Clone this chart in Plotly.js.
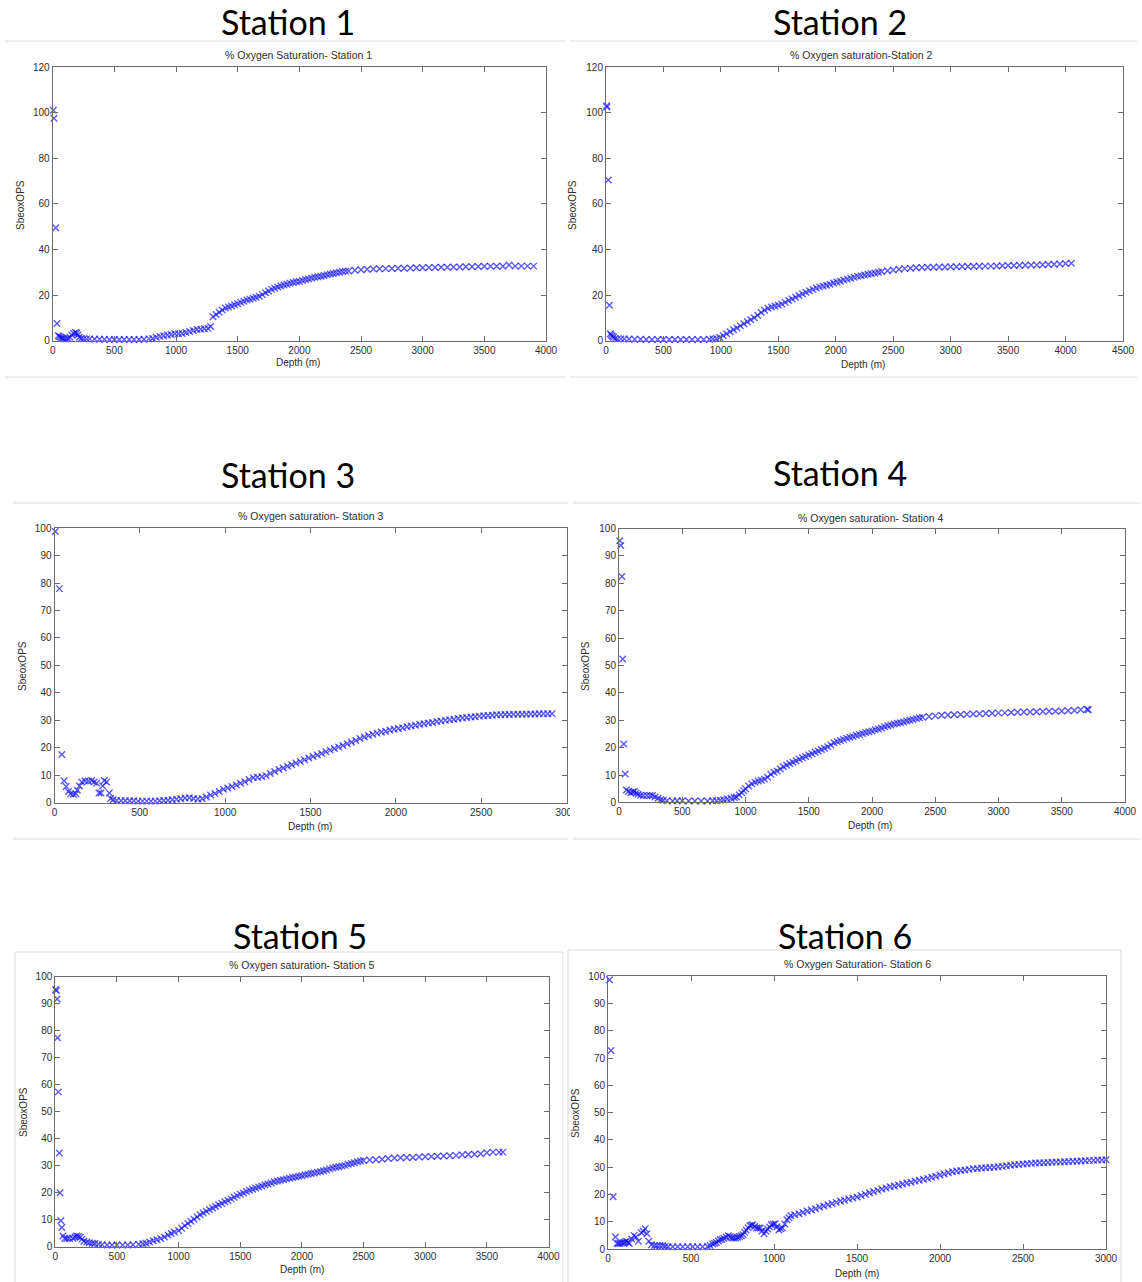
<!DOCTYPE html>
<html><head><meta charset="utf-8">
<script src="https://cdn.plot.ly/plotly-3.0.1.min.js"></script>
<style>html,body{margin:0;padding:0;background:#fff}#chart{width:1142px;height:1282px}</style>
</head><body><div id="chart"></div>
<script>
// ---------------- DATA ----------------
const stationNames = ['Station 1','Station 2','Station 3','Station 4','Station 5','Station 6'];
const panelTitles = ['% Oxygen Saturation- Station 1','% Oxygen saturation-Station 2','% Oxygen saturation- Station 3',
                     '% Oxygen saturation- Station 4','% Oxygen saturation- Station 5','% Oxygen Saturation- Station 6'];
const xLabel = 'Depth (m)';
const yLabel = 'SbeoxOPS';
const xMax = [4000,4500,3000,4000,4000,3000];
const yMax = [120,120,100,100,100,100];
const yStep = [20,20,10,10,10,10];

const s1Depth = [5,10,25,35,45,55,65,75,85,95,
 110,125,140,155,170,185,195,205,215,230,
 250,275,300,340,380,420,460,500,540,580,
 620,660,700,740,780,810,840,870,900,930,
 960,990,1020,1050,1080,1110,1140,1170,1200,1230,
 1260,1280,1300,1325,1350,1375,1400,1425,1450,1475,
 1500,1525,1550,1575,1600,1625,1650,1675,1700,1725,
 1750,1775,1800,1825,1850,1875,1900,1925,1950,1975,
 2000,2025,2050,2075,2100,2125,2150,2175,2200,2225,
 2250,2275,2300,2325,2350,2375,2400,2450,2500,2550,
 2600,2650,2700,2750,2800,2850,2900,2950,3000,3050,
 3100,3150,3200,3250,3300,3350,3400,3450,3500,3550,
 3600,3650,3700,3750,3800,3850,3900];
const s1Sat = [101,97.5,49.5,7.5,2.2,1.8,1.5,1.2,1.0,0.8,
 0.8,1.0,1.5,2.5,3.2,3.6,3.3,2.5,1.5,1.0,
 0.9,0.8,0.8,0.7,0.6,0.6,0.5,0.5,0.5,0.5,
 0.5,0.5,0.5,0.6,0.8,1.0,1.5,1.9,2.2,2.5,
 2.7,3.0,3.0,3.2,3.6,4.0,4.5,4.9,5.0,5.2,
 5.4,6.2,10.5,11.5,12.5,13.5,14.3,14.8,15.2,15.8,
 16.2,16.8,17.3,17.8,18.2,18.6,19.0,19.5,20.2,21.0,
 21.8,22.5,23.0,23.5,24.0,24.4,24.8,25.2,25.5,25.8,
 26.0,26.4,26.8,27.1,27.5,27.8,28.0,28.3,28.6,28.9,
 29.2,29.5,29.8,30.0,30.3,30.5,30.6,30.9,31.1,31.3,
 31.4,31.5,31.6,31.7,31.8,31.8,31.9,32.0,32.0,32.1,
 32.1,32.2,32.2,32.3,32.3,32.4,32.4,32.5,32.6,32.6,
 32.6,32.6,33.2,32.7,32.7,32.7,32.7];

const s2Depth = [5,8,20,30,38,45,55,65,80,100,
 130,160,200,250,300,350,400,450,500,550,
 600,650,700,750,800,850,900,930,960,990,
 1020,1050,1080,1110,1140,1170,1200,1230,1260,1290,
 1320,1350,1380,1410,1440,1470,1500,1530,1560,1590,
 1620,1650,1680,1710,1740,1770,1800,1830,1860,1890,
 1920,1950,1980,2010,2040,2070,2100,2130,2160,2190,
 2220,2250,2280,2310,2340,2370,2400,2450,2500,2550,
 2600,2650,2700,2750,2800,2850,2900,2950,3000,3050,
 3100,3150,3200,3250,3300,3350,3400,3450,3500,3550,
 3600,3650,3700,3750,3800,3850,3900,3950,4000,4050];
const s2Sat = [103,102.5,70.5,15.5,3.0,2.5,2.0,1.5,1.0,0.8,
 0.8,0.8,0.7,0.6,0.6,0.5,0.5,0.5,0.5,0.5,
 0.5,0.5,0.5,0.5,0.5,0.5,0.6,0.8,1.0,1.4,
 2.2,3.0,3.9,4.8,5.6,6.5,7.4,8.3,9.2,10.1,
 11.2,12.4,13.4,14.2,14.8,15.2,15.5,16.1,16.8,17.6,
 18.3,19.0,19.8,20.5,21.2,21.9,22.5,23.1,23.6,24.0,
 24.3,24.8,25.3,25.7,26.1,26.6,27.0,27.4,27.8,28.2,
 28.5,28.8,29.1,29.4,29.7,30.0,30.3,30.7,31.0,31.3,
 31.6,31.8,32.0,32.1,32.2,32.2,32.3,32.3,32.4,32.4,
 32.5,32.5,32.6,32.6,32.7,32.7,32.8,32.9,33.0,33.0,
 33.1,33.1,33.2,33.2,33.3,33.4,33.5,33.6,33.8,34.0];

const s3Depth = [5,29,43,56,68,82,95,111,125,134,
 146,160,179,198,218,232,247,261,272,282,
 292,305,321,329,344,364,390,415,440,465,
 490,515,540,565,590,615,640,665,690,715,
 740,765,790,815,840,865,890,915,940,965,
 990,1015,1040,1065,1090,1115,1140,1165,1190,1215,
 1240,1265,1290,1315,1340,1365,1390,1415,1440,1465,
 1490,1515,1540,1565,1590,1615,1640,1665,1690,1715,
 1740,1765,1790,1815,1840,1865,1890,1915,1940,1965,
 1990,2015,2040,2065,2090,2115,2140,2165,2190,2215,
 2240,2265,2290,2315,2340,2365,2390,2415,2440,2465,
 2490,2515,2540,2565,2590,2615,2640,2665,2690,2715,
 2740,2765,2790,2815,2840,2865,2890,2915];
const s3Sat = [98.8,78,17.5,7.9,5.8,4.0,3.2,3.0,3.2,4.5,
 6.0,7.5,7.8,7.8,8.0,7.5,7.0,3.5,3.5,6.0,
 8.0,7.5,3.5,1.5,1.0,0.7,0.6,0.6,0.6,0.6,
 0.5,0.5,0.5,0.5,0.5,0.6,0.7,0.8,1.0,1.2,
 1.4,1.6,1.7,1.5,1.3,1.4,2.0,2.7,3.3,4.0,
 4.8,5.3,5.8,6.4,7.0,7.6,8.4,9.0,9.2,9.4,
 9.8,10.6,11.3,12.0,12.6,13.2,13.8,14.4,15.0,15.6,
 16.2,16.8,17.3,17.9,18.5,19.1,19.7,20.2,20.8,21.4,
 22.0,22.6,23.3,23.9,24.4,24.9,25.3,25.7,26.0,26.4,
 26.7,27.0,27.3,27.6,27.9,28.2,28.5,28.7,29.0,29.2,
 29.5,29.7,30.0,30.2,30.4,30.6,30.8,31.0,31.2,31.3,
 31.5,31.6,31.7,31.8,32.0,32.0,32.1,32.1,32.2,32.2,
 32.2,32.2,32.3,32.3,32.4,32.4,32.4,32.4];

const s4Depth = [6,14,23,29,37,49,58,75,92,108,
 121,135,150,170,193,220,245,265,285,308,
 330,350,380,424,460,500,550,600,650,700,
 740,770,800,827,855,885,910,928,950,970,
 985,1000,1025,1050,1075,1100,1125,1150,1175,1200,
 1225,1250,1275,1300,1325,1350,1375,1400,1425,1450,
 1475,1500,1525,1550,1575,1600,1625,1650,1675,1700,
 1725,1750,1775,1800,1825,1850,1875,1900,1925,1950,
 1975,2000,2025,2050,2075,2100,2125,2150,2175,2200,
 2225,2250,2275,2300,2325,2350,2375,2400,2450,2500,
 2550,2600,2650,2700,2750,2800,2850,2900,2950,3000,
 3050,3100,3150,3200,3250,3300,3350,3400,3450,3500,
 3550,3600,3650,3700,3710];
const s4Sat = [95.6,93.8,82.5,52.4,21.3,10.4,4.5,4.0,3.5,3.8,
 4.0,3.4,3.0,2.6,2.5,2.5,2.5,2.5,2.0,1.5,
 1.0,0.8,0.6,0.5,0.6,0.6,0.5,0.5,0.5,0.5,
 0.6,0.6,0.8,1.0,1.2,1.5,1.8,2.0,2.8,3.5,
 4.3,5.0,6.0,6.8,7.4,7.8,8.1,8.5,9.2,10.3,
 11.0,11.5,12.2,13.0,13.6,14.2,14.7,15.2,15.8,16.3,
 16.8,17.3,17.8,18.3,18.8,19.3,19.8,20.3,21.0,21.8,
 22.2,22.6,23.0,23.4,23.8,24.1,24.5,24.8,25.2,25.5,
 25.8,26.1,26.5,26.8,27.2,27.6,28.0,28.3,28.6,28.9,
 29.1,29.4,29.7,30.0,30.3,30.6,30.9,31.1,31.4,31.6,
 31.8,31.9,32.0,32.1,32.2,32.3,32.4,32.5,32.6,32.7,
 32.7,32.8,32.9,33.0,33.0,33.1,33.2,33.3,33.3,33.4,
 33.5,33.6,33.8,34.0,33.8];

const s5Depth = [2,9,15,18,24,33,39,45,53,62,
 77,95,115,142,160,172,188,202,216,231,
 255,276,300,320,350,380,420,460,500,545,
 588,630,677,710,736,765,795,825,855,885,
 914,940,965,1000,1025,1050,1075,1100,1125,1150,
 1175,1200,1225,1250,1275,1300,1325,1350,1375,1400,
 1425,1450,1475,1500,1525,1550,1575,1600,1625,1650,
 1675,1700,1725,1750,1775,1800,1825,1850,1875,1900,
 1925,1950,1975,2000,2025,2050,2075,2100,2125,2150,
 2175,2200,2225,2250,2275,2300,2325,2350,2375,2400,
 2425,2450,2475,2500,2550,2600,2650,2700,2750,2800,
 2850,2900,2950,3000,3050,3100,3150,3200,3250,3300,
 3350,3400,3450,3500,3550,3600,3630];
const s5Sat = [95.2,94.8,91.7,77.3,57.3,34.7,20.0,9.6,7.1,4.0,
 3.0,3.0,3.0,3.1,3.6,4.0,3.8,3.5,2.8,2.0,
 1.7,1.5,1.3,1.2,0.9,0.7,0.6,0.6,0.6,0.6,
 0.6,0.7,0.9,1.1,1.3,1.7,2.2,2.6,3.0,3.6,
 4.3,4.9,5.4,6.0,6.8,7.8,8.6,9.4,10.2,11.0,
 11.8,12.5,13.1,13.8,14.3,14.9,15.5,16.0,16.6,17.1,
 17.7,18.3,18.9,19.4,19.9,20.4,20.9,21.3,21.7,22.1,
 22.5,22.9,23.2,23.6,24.0,24.3,24.6,24.8,25.1,25.3,
 25.6,25.8,26.1,26.3,26.6,26.8,27.1,27.3,27.6,27.8,
 28.1,28.4,28.8,29.1,29.4,29.6,29.9,30.1,30.5,30.8,
 31.1,31.4,31.7,31.9,32.1,32.2,32.4,32.6,32.8,32.9,
 33.0,33.0,33.2,33.3,33.4,33.5,33.6,33.7,33.8,34.0,
 34.1,34.2,34.4,34.8,35.0,35.0,35.0];

const s6Depth = [9,18,31,45,54,63,72,83,94,103,
 112,120,128,143,157,168,183,201,212,224,
 235,246,262,280,295,312,329,345,362,390,
 420,450,480,510,540,570,600,615,631,642,
 653,665,676,687,698,712,725,736,747,758,
 770,781,792,803,814,823,832,844,855,864,
 872,884,895,906,917,928,940,951,962,973,
 984,996,1007,1018,1029,1040,1051,1065,1078,1090,
 1101,1125,1150,1175,1200,1225,1250,1275,1300,1325,
 1350,1375,1400,1425,1450,1475,1500,1525,1550,1575,
 1600,1625,1650,1675,1700,1725,1750,1775,1800,1825,
 1850,1875,1900,1925,1950,1975,2000,2025,2050,2075,
 2100,2125,2150,2175,2200,2225,2250,2275,2300,2325,
 2350,2375,2400,2425,2450,2475,2500,2525,2550,2575,
 2600,2625,2650,2675,2700,2725,2750,2775,2800,2825,
 2850,2875,2900,2925,2950,2975,3000];
const s6Sat = [98.7,72.8,19.2,4.4,2.0,2.0,2.0,2.2,2.4,2.6,
 2.8,2.4,2.0,3.7,5.0,4.4,2.8,6.0,6.5,7.4,
 5.6,2.8,1.6,1.3,1.2,1.3,1.3,1.0,0.8,0.8,
 0.8,0.8,0.8,0.8,0.8,0.8,0.9,1.3,1.8,2.1,
 2.4,2.9,3.4,3.6,3.9,4.4,4.9,4.5,4.0,4.0,
 4.0,4.3,4.6,4.9,5.2,6.1,7.0,7.8,8.5,8.7,
 8.9,8.3,7.7,7.7,7.7,6.6,5.6,6.5,7.3,8.1,
 8.9,9.1,9.3,8.2,7.0,7.4,7.7,9.2,10.7,11.5,
 12.2,12.6,12.9,13.4,13.9,14.3,14.8,15.3,15.8,16.2,
 16.7,17.1,17.6,17.9,18.3,18.7,19.1,19.6,20.1,20.6,
 21.1,21.5,22.0,22.4,22.8,23.1,23.5,23.8,24.2,24.5,
 24.9,25.2,25.6,25.9,26.3,26.7,27.1,27.5,28.0,28.3,
 28.6,28.8,29.0,29.2,29.4,29.5,29.7,29.8,29.9,30.0,
 30.2,30.3,30.5,30.7,30.9,31.0,31.2,31.3,31.4,31.5,
 31.6,31.6,31.7,31.8,31.9,31.9,32.0,32.1,32.2,32.2,
 32.3,32.4,32.5,32.5,32.6,32.6,32.7];

const depths = [s1Depth,s2Depth,s3Depth,s4Depth,s5Depth,s6Depth];
const sats = [s1Sat,s2Sat,s3Sat,s4Sat,s5Sat,s6Sat];

// ---------------- LAYOUT (pixel geometry) ----------------
const W = 1142, H = 1282;
const px = x => x / W;
const py = y => 1 - y / H;
const boxes = [
  {l:52.7, r:546,  t:67,    b:340.7, head:[288,22],  title:[298,55],  xl:[298,363],  yl:[20,205]},
  {l:606,  r:1123, t:67,    b:340.7, head:[840,22],  title:[861,55],  xl:[863,364],  yl:[572,205]},
  {l:54.5, r:566.5,t:528.3, b:802.5, head:[288,474], title:[310,516], xl:[310,826],  yl:[22,666]},
  {l:619,  r:1125, t:528.6, b:802.4, head:[840,472], title:[870,518], xl:[870,825],  yl:[585,666]},
  {l:55.3, r:548.5,t:976.5, b:1246.7,head:[300,935], title:[301,965], xl:[302,1269], yl:[23,1112]},
  {l:608,  r:1106, t:976.3, b:1249,  head:[845,935], title:[857,964], xl:[857,1273], yl:[575,1113]}
];

const axisColor = '#6c6c6c';
const textColor = '#2e2e2e';
const fontFam = 'Liberation Sans, Arial, sans-serif';

const data = [];
const layout = {
  width: W, height: H,
  margin: {l:0, r:0, t:0, b:0},
  paper_bgcolor: '#ffffff', plot_bgcolor: '#ffffff',
  showlegend: false,
  annotations: [], shapes: []
};

boxes.forEach((b, i) => {
  const n = i === 0 ? '' : String(i + 1);
  data.push({
    type: 'scatter', mode: 'markers',
    x: depths[i], y: sats[i],
    xaxis: 'x' + n, yaxis: 'y' + n,
    cliponaxis: false,
    marker: {symbol: 'x-thin', size: 6.5, line: {width: 1.4, color: 'rgba(10,10,255,0.68)'}},
    hoverinfo: 'x+y'
  });
  const common = {
    showline: true, linecolor: axisColor, linewidth: 1, mirror: 'ticks',
    ticks: 'inside', ticklen: 5, tickwidth: 1, tickcolor: axisColor,
    showgrid: false, zeroline: false, fixedrange: true,
    tickfont: {family: fontFam, size: 10, color: textColor}
  };
  layout['xaxis' + n] = Object.assign({}, common, {
    domain: [px(b.l), px(b.r)], range: [0, xMax[i]], tick0: 0, dtick: 500,
    anchor: 'y' + n
  });
  layout['yaxis' + n] = Object.assign({}, common, {
    domain: [py(b.b), py(b.t)], range: [0, yMax[i]], tick0: 0, dtick: yStep[i],
    anchor: 'x' + n
  });
  layout.annotations.push(
    {text: stationNames[i], xref:'paper', yref:'paper', x: px(b.head[0]), y: py(b.head[1]),
     xanchor:'center', yanchor:'middle', showarrow:false,
     font:{family:'Lato, Open Sans, sans-serif', size:34, color:'#000000'}},
    {text: panelTitles[i], xref:'paper', yref:'paper', x: px(b.title[0]), y: py(b.title[1]),
     xanchor:'center', yanchor:'middle', showarrow:false,
     font:{family: fontFam, size:10.5, color:textColor}},
    {text: xLabel, xref:'paper', yref:'paper', x: px(b.xl[0]), y: py(b.xl[1]),
     xanchor:'center', yanchor:'middle', showarrow:false,
     font:{family: fontFam, size:10, color:textColor}},
    {text: yLabel, xref:'paper', yref:'paper', x: px(b.yl[0]), y: py(b.yl[1]),
     xanchor:'center', yanchor:'middle', showarrow:false, textangle:-90,
     font:{family: fontFam, size:10, color:textColor}}
  );
});

// faint frame lines of the pasted screenshots
const frame = '#dcdcdc';
const hl = (x0, x1, y) => ({type:'line', xref:'paper', yref:'paper', x0:px(x0), x1:px(x1), y0:py(y), y1:py(y), line:{color:frame, width:1}});
const vl = (x, y0, y1) => ({type:'line', xref:'paper', yref:'paper', x0:px(x), x1:px(x), y0:py(y0), y1:py(y1), line:{color:frame, width:1}});
layout.shapes.push(
  hl(5,565,41), hl(5,565,377), hl(570,1137,41), hl(570,1137,377),
  hl(13,568,503), hl(13,568,839), hl(573,1140,503), hl(573,1140,839),
  hl(15,563,952), vl(15,952,1282), vl(563,952,1282),
  hl(568,1121,950), vl(568,950,1282), vl(1121,950,1282),
  {type:'rect', xref:'paper', yref:'paper', layer:'above', x0:px(570), x1:px(584), y0:py(822), y1:py(804),
   fillcolor:'#ffffff', line:{width:0}}
);

Plotly.newPlot('chart', data, layout, {displayModeBar:false, staticPlot:true});
</script>
</body></html>
